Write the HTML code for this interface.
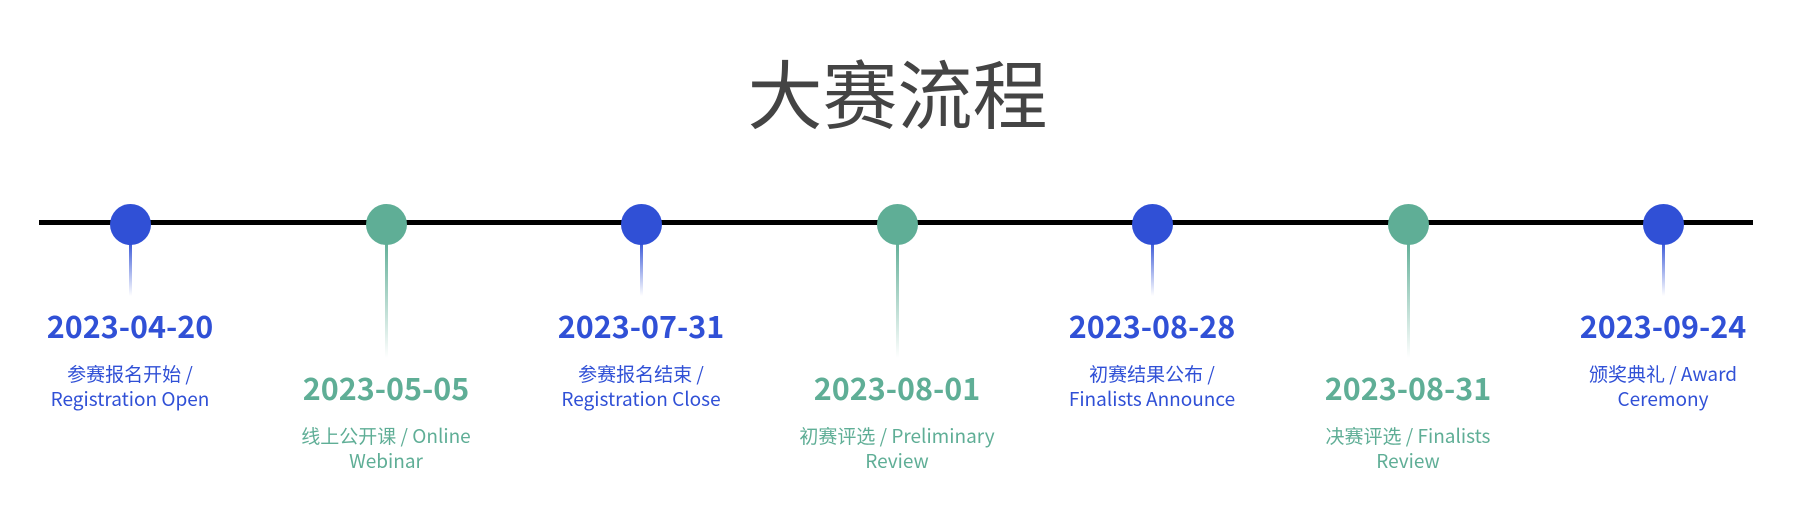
<!DOCTYPE html>
<html><head><meta charset="utf-8"><style>
body{margin:0;width:1809px;height:530px;background:#fff;position:relative;overflow:hidden;font-family:"Noto Sans CJK SC","Liberation Sans",sans-serif;}
.t{position:absolute;left:-7px;width:1809px;top:50px;text-align:center;font-size:75px;line-height:82px;color:#444;}
.line{position:absolute;left:39px;width:1714px;top:220px;height:5px;background:#000;}
.dot{position:absolute;width:41px;height:41px;border-radius:50%;top:204px;}
.stem{position:absolute;width:3px;top:240px;}
.lab{position:absolute;width:300px;text-align:center;}
.d{font-weight:bold;font-size:30.5px;line-height:40px;}
.s{font-size:19px;line-height:25px;margin-top:16px;}
.b{color:#3050d6}.g{color:#5fae96}
</style></head><body>
<div class="t">大赛流程</div>
<div class="line"></div>

<div class="dot" style="left:110px;background:#3050d6"></div>
<div class="stem" style="left:129px;height:56px;background:linear-gradient(#3050d6,rgba(48,80,214,0))"></div>
<div class="lab b" style="left:-20px;top:305px"><div class="d">2023-04-20</div><div class="s">参赛报名开始 /<br>Registration Open</div></div>

<div class="dot" style="left:366px;background:#5fae96"></div>
<div class="stem" style="left:385px;height:118px;background:linear-gradient(#5fae96,rgba(95,174,150,0))"></div>
<div class="lab g" style="left:236px;top:367px"><div class="d">2023-05-05</div><div class="s">线上公开课 / Online<br>Webinar</div></div>

<div class="dot" style="left:621px;background:#3050d6"></div>
<div class="stem" style="left:640px;height:56px;background:linear-gradient(#3050d6,rgba(48,80,214,0))"></div>
<div class="lab b" style="left:491px;top:305px"><div class="d">2023-07-31</div><div class="s">参赛报名结束 /<br>Registration Close</div></div>

<div class="dot" style="left:877px;background:#5fae96"></div>
<div class="stem" style="left:896px;height:118px;background:linear-gradient(#5fae96,rgba(95,174,150,0))"></div>
<div class="lab g" style="left:747px;top:367px"><div class="d">2023-08-01</div><div class="s">初赛评选 / Preliminary<br>Review</div></div>

<div class="dot" style="left:1132px;background:#3050d6"></div>
<div class="stem" style="left:1151px;height:56px;background:linear-gradient(#3050d6,rgba(48,80,214,0))"></div>
<div class="lab b" style="left:1002px;top:305px"><div class="d">2023-08-28</div><div class="s">初赛结果公布 /<br>Finalists Announce</div></div>

<div class="dot" style="left:1388px;background:#5fae96"></div>
<div class="stem" style="left:1407px;height:118px;background:linear-gradient(#5fae96,rgba(95,174,150,0))"></div>
<div class="lab g" style="left:1258px;top:367px"><div class="d">2023-08-31</div><div class="s">决赛评选 / Finalists<br>Review</div></div>

<div class="dot" style="left:1643px;background:#3050d6"></div>
<div class="stem" style="left:1662px;height:56px;background:linear-gradient(#3050d6,rgba(48,80,214,0))"></div>
<div class="lab b" style="left:1513px;top:305px"><div class="d">2023-09-24</div><div class="s">颁奖典礼 / Award<br>Ceremony</div></div>
</body></html>
